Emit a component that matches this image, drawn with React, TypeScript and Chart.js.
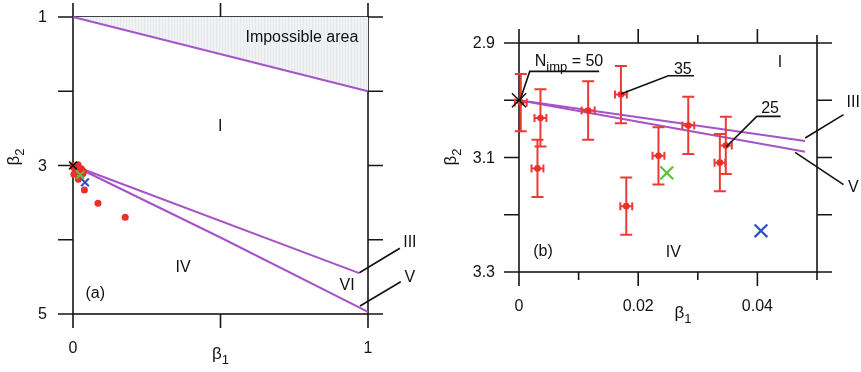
import React, { useEffect, useRef } from "react";
import { Chart, registerables } from "chart.js";
Chart.register(...registerables);

const FONT = '"Liberation Sans", Arial, Helvetica, sans-serif';
const TEXT = "#111111";
const AXIS = "#161616";
const PURPLE = "#a653c8";
const RED = "#eb2f29";
const ERR_RED = "#ee3a35";
const GREEN = "#5cbf3c";
const BLUE = "#3050c2";

// ---------------- Panel (a) ----------------
const aXMajor = [0, 0.5, 1];
const aXLabels = ["0", "", "1"];
const aYMajor = [1, 2, 3, 4, 5];
const aYLabels = ["1", "", "3", "", "5"];

const impossibleBeta1 = [0, 1];
const impossibleBeta2 = [1, 2];
const lineIIIBeta1A = [0, 0.97];
const lineIIIBeta2A = [3, 4.45];
const lineVBeta1A = [0, 0.5, 1];
const lineVBeta2A = [3, 3.97, 4.97];

const extraBeta1 = [0.0386, 0.0847, 0.177];
const extraBeta2 = [3.33, 3.509, 3.698];

// ---------------- Panel (b) ----------------
const bXMajor = [0, 0.02, 0.04];
const bXLabels = ["0", "0.02", "0.04"];
const bXMinor = [0.01, 0.03, 0.05];
const bYMajor = [2.9, 3.0, 3.1, 3.2, 3.3];
const bYLabels = ["2.9", "", "3.1", "", "3.3"];

const lineIIIBeta1B = [0, 0.048];
const lineIIIBeta2B = [3.0, 3.071];
const lineVBeta1B = [0, 0.048];
const lineVBeta2B = [3.0, 3.09];

// measured points (with error bars)
const measBeta1 = [0.0003, 0.0036, 0.0031, 0.0116, 0.0171, 0.018, 0.0234, 0.0284, 0.0337, 0.0347];
const measBeta2 = [3.004, 3.031, 3.119, 3.018, 2.99, 3.185, 3.097, 3.044, 3.109, 3.079];
const measBeta1Err = [0.001, 0.001, 0.001, 0.0011, 0.001, 0.001, 0.001, 0.001, 0.0009, 0.001];
const measBeta2Err = [0.05, 0.05, 0.05, 0.051, 0.05, 0.05, 0.05, 0.05, 0.05, 0.05];

// reference markers
const normalBeta1 = [0];
const normalBeta2 = [3];
const greenBeta1 = [0.0248];
const greenBeta2 = [3.127];
const blueBeta1 = [0.0406];
const blueBeta2 = [3.228];

const pts = (xs: number[], ys: number[]) => xs.map((x, i) => ({ x, y: ys[i] }));

type Part = { t: string; size: number; dy: number };
function drawParts(ctx: CanvasRenderingContext2D, parts: Part[], x: number, y: number, align: "left" | "center") {
  let w = 0;
  parts.forEach((p) => {
    ctx.font = `${p.size}px ${FONT}`;
    w += ctx.measureText(p.t).width;
  });
  let cx = align === "center" ? x - w / 2 : x;
  ctx.textAlign = "left";
  ctx.textBaseline = "alphabetic";
  parts.forEach((p) => {
    ctx.font = `${p.size}px ${FONT}`;
    ctx.fillText(p.t, cx, y + p.dy);
    cx += ctx.measureText(p.t).width;
  });
}

type Txt = { t: string; x: number; y: number };
type Poly = number[][];
type PanelCfg = {
  id: string;
  xMajor: number[];
  xLabels: string[];
  xMinor: number[];
  yMajor: number[];
  yLabels: string[];
  yLabelGap: number;
  xTitleX: number;
  xTitleDy: number;
  yTitleDx: number;
  yTitleY: number;
  texts: Txt[];
  rich: { parts: Part[]; x: number; y: number; align: "left" | "center" }[];
  leaders: Poly[];
  errIndex: number;
};

function framePlugin(cfg: PanelCfg) {
  return {
    id: "frame" + cfg.id,
    beforeDatasetsDraw(chart: any) {
      const { ctx, chartArea: ca, scales } = chart;
      const xs = scales.x;
      const ys = scales.y;
      ctx.save();
      ctx.strokeStyle = AXIS;
      ctx.lineWidth = 1.6;
      ctx.strokeRect(ca.left, ca.top, ca.right - ca.left, ca.bottom - ca.top);
      ctx.beginPath();
      const MAJ = 14;
      const MIN = 8;
      const YL = 15;
      const tickX = (v: number, len: number) => {
        const px = xs.getPixelForValue(v);
        ctx.moveTo(px, ca.top);
        ctx.lineTo(px, ca.top - len);
        ctx.moveTo(px, ca.bottom);
        ctx.lineTo(px, ca.bottom + len);
      };
      cfg.xMajor.forEach((v) => tickX(v, MAJ));
      cfg.xMinor.forEach((v) => tickX(v, MIN));
      cfg.yMajor.forEach((v) => {
        const py = ys.getPixelForValue(v);
        ctx.moveTo(ca.left, py);
        ctx.lineTo(ca.left - YL, py);
        ctx.moveTo(ca.right, py);
        ctx.lineTo(ca.right + YL, py);
      });
      ctx.stroke();

      ctx.fillStyle = TEXT;
      ctx.font = `16px ${FONT}`;
      ctx.textAlign = "center";
      ctx.textBaseline = "middle";
      cfg.xMajor.forEach((v, i) => {
        if (cfg.xLabels[i]) ctx.fillText(cfg.xLabels[i], xs.getPixelForValue(v), ca.bottom + 35);
      });
      ctx.textAlign = "right";
      cfg.yMajor.forEach((v, i) => {
        if (cfg.yLabels[i]) ctx.fillText(cfg.yLabels[i], ca.left - cfg.yLabelGap, ys.getPixelForValue(v) + 1);
      });

      drawParts(
        ctx,
        [
          { t: "β", size: 17, dy: 0 },
          { t: "1", size: 13, dy: 5 },
        ],
        xs.getPixelForValue(cfg.xTitleX),
        ca.bottom + cfg.xTitleDy,
        "center"
      );
      ctx.save();
      ctx.translate(ca.left - cfg.yTitleDx, cfg.yTitleY);
      ctx.rotate(-Math.PI / 2);
      drawParts(
        ctx,
        [
          { t: "β", size: 17, dy: 0 },
          { t: "2", size: 13, dy: 5 },
        ],
        0,
        5,
        "center"
      );
      ctx.restore();
      ctx.restore();
    },
    beforeDatasetDraw(chart: any, args: any) {
      if (args.index !== cfg.errIndex) return;
      const { ctx, scales } = chart;
      const xs = scales.x;
      const ys = scales.y;
      ctx.save();
      ctx.strokeStyle = ERR_RED;
      ctx.lineWidth = 2;
      ctx.beginPath();
      measBeta1.forEach((bx, i) => {
        const by = measBeta2[i];
        const px = xs.getPixelForValue(bx);
        const py = ys.getPixelForValue(by);
        const y1 = ys.getPixelForValue(by - measBeta2Err[i]);
        const y2 = ys.getPixelForValue(by + measBeta2Err[i]);
        const x1 = xs.getPixelForValue(bx - measBeta1Err[i]);
        const x2 = xs.getPixelForValue(bx + measBeta1Err[i]);
        ctx.moveTo(px, y1);
        ctx.lineTo(px, y2);
        ctx.moveTo(px - 6, y1);
        ctx.lineTo(px + 6, y1);
        ctx.moveTo(px - 6, y2);
        ctx.lineTo(px + 6, y2);
        ctx.moveTo(x1, py);
        ctx.lineTo(x2, py);
        ctx.moveTo(x1, py - 4);
        ctx.lineTo(x1, py + 4);
        ctx.moveTo(x2, py - 4);
        ctx.lineTo(x2, py + 4);
      });
      ctx.stroke();
      ctx.restore();
    },
    afterDatasetsDraw(chart: any) {
      const { ctx, scales } = chart;
      const xs = scales.x;
      const ys = scales.y;
      ctx.save();
      ctx.strokeStyle = "#111";
      ctx.lineWidth = 1.6;
      cfg.leaders.forEach((poly) => {
        ctx.beginPath();
        poly.forEach(([x, y], i) => {
          const px = xs.getPixelForValue(x);
          const py = ys.getPixelForValue(y);
          if (i === 0) ctx.moveTo(px, py);
          else ctx.lineTo(px, py);
        });
        ctx.stroke();
      });
      ctx.fillStyle = TEXT;
      ctx.font = `16px ${FONT}`;
      ctx.textAlign = "center";
      ctx.textBaseline = "middle";
      cfg.texts.forEach((t) => ctx.fillText(t.t, xs.getPixelForValue(t.x), ys.getPixelForValue(t.y)));
      cfg.rich.forEach((r) => drawParts(ctx, r.parts, xs.getPixelForValue(r.x), ys.getPixelForValue(r.y), r.align));
      ctx.restore();
    },
  };
}

function markerSet(xs: number[], ys: number[], color: string, radius: number, width: number) {
  return {
    type: "scatter" as const,
    data: pts(xs, ys),
    pointStyle: "crossRot",
    pointRadius: radius,
    pointBorderWidth: width,
    borderColor: color,
    backgroundColor: color,
    clip: false,
  };
}

function lineSet(xs: number[], ys: number[], extra: any = {}) {
  return {
    type: "line" as const,
    data: pts(xs, ys),
    borderColor: PURPLE,
    borderWidth: 2,
    pointRadius: 0,
    fill: false,
    tension: 0,
    clip: false,
    ...extra,
  };
}

function baseOptions(xMin: number, xMax: number, yMin: number, yMax: number, padding: any) {
  return {
    responsive: false,
    animation: false,
    devicePixelRatio: 1,
    layout: { padding },
    plugins: { legend: { display: false }, tooltip: { enabled: false } },
    events: [],
    scales: {
      x: { type: "linear", min: xMin, max: xMax, display: false },
      y: { type: "linear", min: yMin, max: yMax, reverse: true, display: false },
    },
  };
}

const cfgA: PanelCfg = {
  id: "a",
  xMajor: aXMajor,
  xLabels: aXLabels,
  xMinor: [],
  yMajor: aYMajor,
  yLabels: aYLabels,
  yLabelGap: 26,
  xTitleX: 0.5,
  xTitleDy: 45,
  yTitleDx: 59,
  yTitleY: 157,
  texts: [
    { t: "Impossible area", x: 0.776, y: 1.283 },
    { t: "I", x: 0.499, y: 2.48 },
    { t: "IV", x: 0.373, y: 4.38 },
    { t: "VI", x: 0.929, y: 4.62 },
    { t: "(a)", x: 0.0755, y: 4.72 },
    { t: "III", x: 1.142, y: 4.04 },
    { t: "V", x: 1.142, y: 4.515 },
  ],
  rich: [],
  leaders: [
    [
      [0.9705, 4.444],
      [1.108, 4.115],
    ],
    [
      [0.973, 4.892],
      [1.111, 4.565],
    ],
  ],
  errIndex: -1,
};

const cfgB: PanelCfg = {
  id: "b",
  xMajor: bXMajor,
  xLabels: bXLabels,
  xMinor: bXMinor,
  yMajor: bYMajor,
  yLabels: bYLabels,
  yLabelGap: 24,
  xTitleX: 0.0275,
  xTitleDy: 46,
  yTitleDx: 68,
  yTitleY: 157,
  texts: [
    { t: "I", x: 0.0438, y: 2.935 },
    { t: "III", x: 0.05608, y: 3.0048 },
    { t: "V", x: 0.05608, y: 3.1519 },
    { t: "(b)", x: 0.00403, y: 3.264 },
    { t: "IV", x: 0.02588, y: 3.2668 },
  ],
  rich: [
    {
      parts: [
        { t: "N", size: 16, dy: 0 },
        { t: "imp", size: 13, dy: 5 },
        { t: " = 50", size: 16, dy: 0 },
      ],
      x: 0.00264,
      y: 2.9409,
      align: "left",
    },
    { parts: [{ t: "35", size: 16, dy: 0 }], x: 0.02748, y: 2.9536, align: "center" },
    { parts: [{ t: "25", size: 16, dy: 0 }], x: 0.04213, y: 3.0224, align: "center" },
  ],
  leaders: [
    [
      [0.0001, 3.002],
      [0.0018, 2.9496],
      [0.01345, 2.9496],
    ],
    [
      [0.01709, 2.989],
      [0.02504, 2.9571],
      [0.02936, 2.9571],
    ],
    [
      [0.03474, 3.0817],
      [0.0399, 3.0282],
      [0.0439, 3.0282],
    ],
    [
      [0.04802, 3.0659],
      [0.05445, 3.0252],
    ],
    [
      [0.04633, 3.0911],
      [0.05445, 3.1475],
    ],
  ],
  errIndex: 3,
};

function makePattern(): CanvasPattern | string {
  const c = document.createElement("canvas");
  c.width = 3;
  c.height = 4;
  const g = c.getContext("2d");
  if (!g) return "#eceef1";
  g.fillStyle = "#f0f2f4";
  g.fillRect(0, 0, 3, 4);
  g.fillStyle = "#e6e8eb";
  g.fillRect(0, 0, 1, 4);
  const p = g.createPattern(c, "repeat");
  return p || "#eceef1";
}

export default function App() {
  const refA = useRef<HTMLCanvasElement>(null);
  const refB = useRef<HTMLCanvasElement>(null);

  useEffect(() => {
    const pattern = makePattern();
    const chartA = new Chart(refA.current as HTMLCanvasElement, {
      type: "scatter",
      data: {
        datasets: [
          markerSet(normalBeta1, normalBeta2, "#111", 5.5, 1.5),
          markerSet(greenBeta1, greenBeta2, GREEN, 5.5, 2),
          markerSet(blueBeta1, blueBeta2, BLUE, 5.5, 2),
          {
            type: "scatter",
            data: pts(measBeta1.concat(extraBeta1), measBeta2.concat(extraBeta2)),
            pointRadius: 3.5,
            pointBorderWidth: 0,
            backgroundColor: RED,
            borderColor: RED,
            clip: false,
          },
          lineSet(lineIIIBeta1A, lineIIIBeta2A),
          lineSet(lineVBeta1A, lineVBeta2A),
          lineSet(impossibleBeta1, impossibleBeta2, { fill: { value: 1 }, backgroundColor: pattern }),
        ] as any,
      },
      options: baseOptions(0, 1, 1, 5, { left: 73, top: 17, right: 62, bottom: 58 }) as any,
      plugins: [framePlugin(cfgA) as any],
    });

    const chartB = new Chart(refB.current as HTMLCanvasElement, {
      type: "scatter",
      data: {
        datasets: [
          markerSet(normalBeta1, normalBeta2, "#111", 10, 1.5),
          markerSet(greenBeta1, greenBeta2, GREEN, 9, 2.2),
          markerSet(blueBeta1, blueBeta2, BLUE, 9, 2.2),
          {
            type: "scatter",
            data: pts(measBeta1, measBeta2),
            pointRadius: 3.3,
            pointBorderWidth: 0,
            backgroundColor: RED,
            borderColor: RED,
            clip: false,
          },
          lineSet(lineIIIBeta1B, lineIIIBeta2B),
          lineSet(lineVBeta1B, lineVBeta2B),
        ] as any,
      },
      options: baseOptions(0, 0.05, 2.9, 3.3, { left: 89, top: 43, right: 44, bottom: 100 }) as any,
      plugins: [framePlugin(cfgB) as any],
    });

    return () => {
      chartA.destroy();
      chartB.destroy();
    };
  }, []);

  return (
    <div style={{ position: "fixed", left: 0, top: 0, width: 861, height: 372, background: "#fff" }}>
      <canvas
        ref={refA}
        width={430}
        height={372}
        style={{ position: "absolute", left: 0, top: 0, width: 430, height: 372 }}
      />
      <canvas
        ref={refB}
        width={431}
        height={372}
        style={{ position: "absolute", left: 430, top: 0, width: 431, height: 372 }}
      />
    </div>
  );
}
